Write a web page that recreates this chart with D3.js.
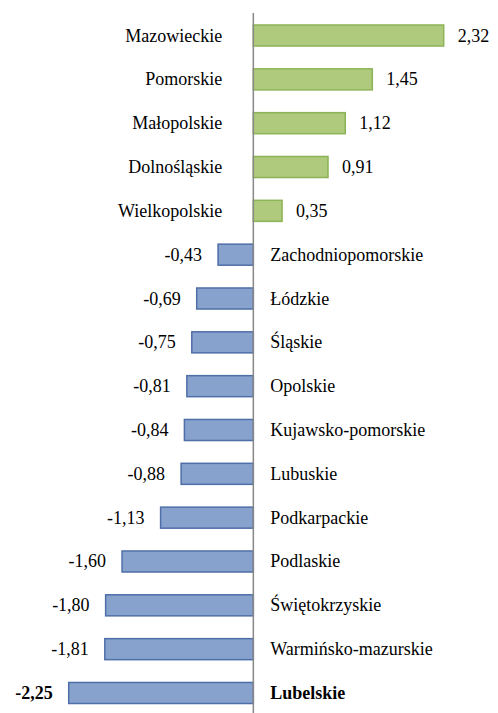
<!DOCTYPE html>
<html>
<head>
<meta charset="utf-8">
<script src="https://cdn.jsdelivr.net/npm/d3@7"></script>
<style>
  html, body { margin: 0; padding: 0; background: #ffffff; }
  svg { display: block; }
</style>
</head>
<body>
<svg id="chart" width="498" height="713" font-family="Liberation Serif" font-size="18"></svg>
<script>
const regions = ["Mazowieckie","Pomorskie","Małopolskie","Dolnośląskie","Wielkopolskie","Zachodniopomorskie","Łódzkie","Śląskie","Opolskie","Kujawsko-pomorskie","Lubuskie","Podkarpackie","Podlaskie","Świętokrzyskie","Warmińsko-mazurskie","Lubelskie"];
const values = [2.32,1.45,1.12,0.91,0.35,-0.43,-0.69,-0.75,-0.81,-0.84,-0.88,-1.13,-1.60,-1.80,-1.81,-2.25];
const highlighted = ["Lubelskie"];

const data = regions.map((r, i) => ({ region: r, value: values[i] }));
const fmt = v => d3.format(".2f")(v).replace(".", ",").replace("−", "-");

const svg = d3.select("#chart");
const x = d3.scaleLinear().domain([-2.25, 2.32]).range([68.7, 443.7]);
const y = d3.scaleBand().domain(regions).range([13.6, 714.9]).paddingInner(0.52).paddingOuter(0.26);

const x0 = x(0);

const gBars = svg.append("g");
gBars.selectAll("rect").data(data).enter().append("rect")
  .attr("x", d => Math.min(x(d.value), x0))
  .attr("y", d => y(d.region))
  .attr("width", d => Math.abs(x(d.value) - x0))
  .attr("height", y.bandwidth())
  .attr("fill", d => d.value >= 0 ? "#afca7c" : "#87a2cc")
  .attr("stroke", d => d.value >= 0 ? "#8cb356" : "#4f6fa8")
  .attr("stroke-width", 1.5);

svg.append("line")
  .attr("x1", x0).attr("x2", x0)
  .attr("y1", 13).attr("y2", 713)
  .attr("stroke", "#888888").attr("stroke-width", 1.5);

const gCat = svg.append("g");
data.forEach(d => {
  gCat.append("text")
    .attr("x", d.value >= 0 ? x0 - 31 : x0 + 17)
    .attr("y", y(d.region) + y.bandwidth() / 2 + 6)
    .attr("text-anchor", d.value >= 0 ? "end" : "start")
    .attr("font-family", "Liberation Serif")
    .attr("font-size", 18)
    .attr("font-weight", highlighted.includes(d.region) ? "bold" : null)
    .text(d.region);
});

const gVal = svg.append("g");
data.forEach(d => {
  gVal.append("text")
    .attr("x", d.value >= 0 ? x(d.value) + 14 : x(d.value) - 16)
    .attr("y", y(d.region) + y.bandwidth() / 2 + 6)
    .attr("text-anchor", d.value >= 0 ? "start" : "end")
    .attr("font-family", "Liberation Serif")
    .attr("font-size", 18)
    .attr("font-weight", highlighted.includes(d.region) ? "bold" : null)
    .text(fmt(d.value));
});
</script>
</body>
</html>
